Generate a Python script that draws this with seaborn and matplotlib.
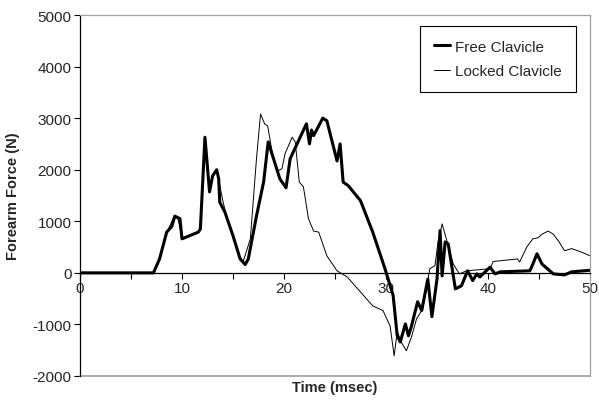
import pandas as pd
import matplotlib
matplotlib.use("Agg")
import matplotlib.pyplot as plt
from matplotlib.ticker import MultipleLocator
import seaborn as sns

# Forearm force traces (time in msec, force in N)
free_t = [0, 7.2, 7.8, 8.5, 9.0, 9.3, 9.8, 10.0, 10.5, 11.6, 11.8, 12.25, 12.7, 13.0,
          13.4, 13.6, 13.7, 14.2, 15.0, 15.7, 16.2, 16.5, 17.3, 18.0, 18.45, 19.6,
          20.2, 20.6, 20.9, 22.2, 22.5, 22.7, 22.9, 23.8, 24.2, 25.2, 25.5, 25.8,
          26.3, 27.5, 28.7, 29.9, 30.7, 31.1, 31.4, 31.9, 32.2, 32.5, 33.1, 33.5,
          34.1, 34.5, 35.0, 35.3, 35.5, 35.8, 36.1, 36.8, 37.4, 38.0, 38.5, 38.9,
          39.2, 40.2, 40.7, 41.2, 44.1, 44.4, 44.8, 45.3, 46.4, 47.5, 48.2, 50.0]
free_f = [0, 0, 270, 790, 900, 1100, 1050, 660, 700, 790, 850, 2630, 1570, 1880,
          2000, 1820, 1370, 1180, 720, 270, 160, 270, 1100, 1760, 2540, 1820,
          1650, 2210, 2340, 2890, 2500, 2770, 2660, 3000, 2950, 2170, 2500, 1760,
          1690, 1400, 790, 80, -440, -1220, -1340, -990, -1220, -1030, -560, -730,
          -120, -850, -120, 820, -60, 600, 560, -310, -250, 40, -150, -20,
          -80, 110, -20, 20, 40, 170, 370, 170, -20, -40, 20, 50]

locked_t = [0, 7.2, 7.8, 8.5, 9.2, 9.6, 10.0, 10.5, 11.6, 11.8, 12.25, 12.7, 13.0,
            13.4, 13.7, 14.0, 14.3, 15.0, 15.6, 16.0, 16.7, 17.3, 17.7, 18.1, 18.4,
            18.9, 19.4, 19.8, 20.1, 20.8, 21.1, 21.5, 21.9, 22.4, 22.9, 23.4, 24.2,
            25.2, 26.2, 28.7, 29.7, 30.4, 30.8, 31.1, 31.6, 32.0, 32.5, 33.0, 33.6,
            34.3, 34.8, 35.1, 35.5, 36.0, 36.6, 37.2, 37.9, 40.2, 40.5, 42.9, 43.1,
            43.8, 44.4, 44.9, 45.3, 45.9, 46.4, 46.9, 47.5, 48.2, 49.2, 50.0]
locked_f = [0, 0, 260, 780, 1080, 1060, 680, 710, 800, 860, 2580, 1600, 1900,
            1980, 1700, 1400, 1150, 700, 330, 220, 660, 2210, 3080, 2890, 2850,
            2270, 1980, 2020, 2310, 2630, 2540, 1760, 1670, 1050, 810, 790, 330,
            40, -80, -640, -730, -1030, -1610, -1140, -1380, -1510, -1240, -890, -700,
            80, 140, 600, 950, 600, 170, -20, 40, 80, 220, 270, 210,
            500, 660, 680, 750, 810, 750, 620, 430, 470, 400, 330]

x_ticks = [0, 10, 20, 30, 40, 50]
y_ticks = [-2000, -1000, 0, 1000, 2000, 3000, 4000, 5000]

sns.set_theme(style="white")
plt.rcParams['font.family'] = ['Liberation Sans', 'DejaVu Sans']
plt.rcParams['axes.unicode_minus'] = False

free_df = pd.DataFrame({'t': free_t, 'F': free_f})
locked_df = pd.DataFrame({'t': locked_t, 'F': locked_f})

fig = plt.figure(figsize=(5.99, 4.06), dpi=100)
ax = fig.add_axes([80 / 599, 1 - 377 / 406, 510 / 599, 361 / 406])

sns.lineplot(data=free_df, x='t', y='F', sort=False, estimator=None, ax=ax,
             color='black', linewidth=2.2, label='Free Clavicle')
sns.lineplot(data=locked_df, x='t', y='F', sort=False, estimator=None, ax=ax,
             color='black', linewidth=0.7, label='Locked Clavicle')

ax.set_xlim(0, 50)
ax.set_ylim(-2000, 5000)
ax.set_xticks(x_ticks)
ax.set_yticks(y_ticks)
ax.xaxis.set_minor_locator(MultipleLocator(5))

# x axis crosses at zero, plot area outlined in grey
ax.spines['bottom'].set_position(('data', 0))
ax.spines['bottom'].set_color('black')
ax.spines['bottom'].set_linewidth(0.9)
ax.spines['left'].set_color('black')
ax.spines['left'].set_linewidth(0.9)
for side in ['top', 'right']:
    ax.spines[side].set_color('#a0a0a0')
    ax.spines[side].set_linewidth(0.9)
ax.axhline(-2000, color='#a0a0a0', linewidth=1.2, clip_on=False)

ax.tick_params(axis='x', which='both', direction='out', length=4, width=0.8,
               color='black', labelsize=11, pad=2, bottom=True)
ax.tick_params(axis='y', which='major', direction='out', length=4, width=0.8,
               color='black', labelsize=11, pad=2, left=True)

ax.set_xlabel('Time (msec)', fontsize=10.5, fontweight='bold')
ax.set_ylabel('Forearm Force (N)', fontsize=10.5, fontweight='bold')
ax.xaxis.set_label_coords(0.5, -0.01)
ax.yaxis.set_label_coords(-0.118, 0.5)

leg = ax.legend(loc='upper right', bbox_to_anchor=(0.9725, 0.9695), fontsize=11,
                frameon=True, fancybox=False, framealpha=1, edgecolor='black',
                handlelength=1.05, handletextpad=0.35, borderpad=0.9,
                labelspacing=0.7, borderaxespad=0)
leg.get_frame().set_linewidth(0.8)

fig.savefig('out.png', dpi=100)
plt.close(fig)
